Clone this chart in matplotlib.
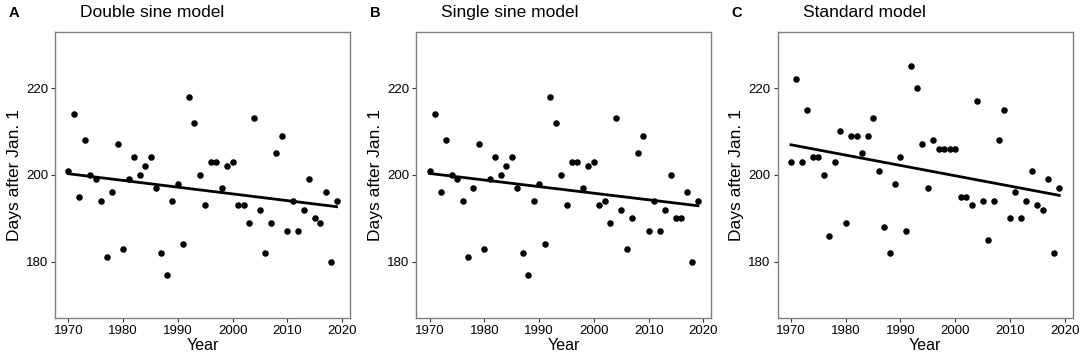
import numpy as np
import matplotlib
matplotlib.use("Agg")
import matplotlib.pyplot as plt

plt.rcParams['font.family'] = ['Liberation Sans', 'DejaVu Sans']

years = list(range(1970, 2020))

double_sine = [201, 214, 195, 208, 200, 199, 194, 181, 196, 207,
               183, 199, 204, 200, 202, 204, 197, 182, 177, 194,
               198, 184, 218, 212, 200, 193, 203, 203, 197, 202,
               203, 193, 193, 189, 213, 192, 182, 189, 205, 209,
               187, 194, 187, 192, 199, 190, 189, 196, 180, 194]

single_sine = [201, 214, 196, 208, 200, 199, 194, 181, 197, 207,
               183, 199, 204, 200, 202, 204, 197, 182, 177, 194,
               198, 184, 218, 212, 200, 193, 203, 203, 197, 202,
               203, 193, 194, 189, 213, 192, 183, 190, 205, 209,
               187, 194, 187, 192, 200, 190, 190, 196, 180, 194]

standard = [203, 222, 203, 215, 204, 204, 200, 186, 203, 210,
            189, 209, 209, 205, 209, 213, 201, 188, 182, 198,
            204, 187, 225, 220, 207, 197, 208, 206, 206, 206,
            206, 195, 195, 193, 217, 194, 185, 194, 208, 215,
            190, 196, 190, 194, 201, 193, 192, 199, 182, 197]

panel_letters = ["A", "B", "C"]
panel_titles = ["Double sine model", "Single sine model", "Standard model"]
series = [double_sine, single_sine, standard]
x_ticks = [1970, 1980, 1990, 2000, 2010, 2020]
y_ticks = [180, 200, 220]

W, H = 1084, 361
fig = plt.figure(figsize=(W / 100, H / 100), dpi=100)

grey = "#808080"
for i in range(3):
    off = i * 361.3
    left = (55 + off) / W
    width = 295 / W
    bottom = 1 - 318 / H
    height = (318 - 31.7) / H
    ax = fig.add_axes([left, bottom, width, height])
    x = np.array(years)
    y = np.array(series[i])
    ax.scatter(x, y, s=22, color="black", linewidths=0, zorder=3)
    b, a = np.polyfit(x, y, 1)
    xl = np.array([x.min(), x.max()])
    ax.plot(xl, a + b * xl, color="black", lw=2.0, zorder=2)
    ax.set_xlim(1967.55, 2021.45)
    ax.set_ylim(167, 233)
    ax.set_xticks(x_ticks)
    ax.set_yticks(y_ticks)
    ax.tick_params(axis="both", colors="#333333", labelcolor="black",
                   labelsize=9.5, length=3, width=0.8, pad=2)
    for sp in ax.spines.values():
        sp.set_color(grey)
        sp.set_linewidth(1.0)
    ax.set_xlabel("Year", fontsize=11.5, labelpad=1)
    ax.set_ylabel("Days after Jan. 1", fontsize=12.5, labelpad=3)
    fig.text((9 + off) / W, 1 - 17 / H, panel_letters[i], fontsize=10.5,
             fontweight="bold", ha="left", va="baseline")
    fig.text((80 + off) / W, 1 - 17 / H, panel_titles[i], fontsize=12.5,
             ha="left", va="baseline")

fig.savefig("out.png", dpi=100)
